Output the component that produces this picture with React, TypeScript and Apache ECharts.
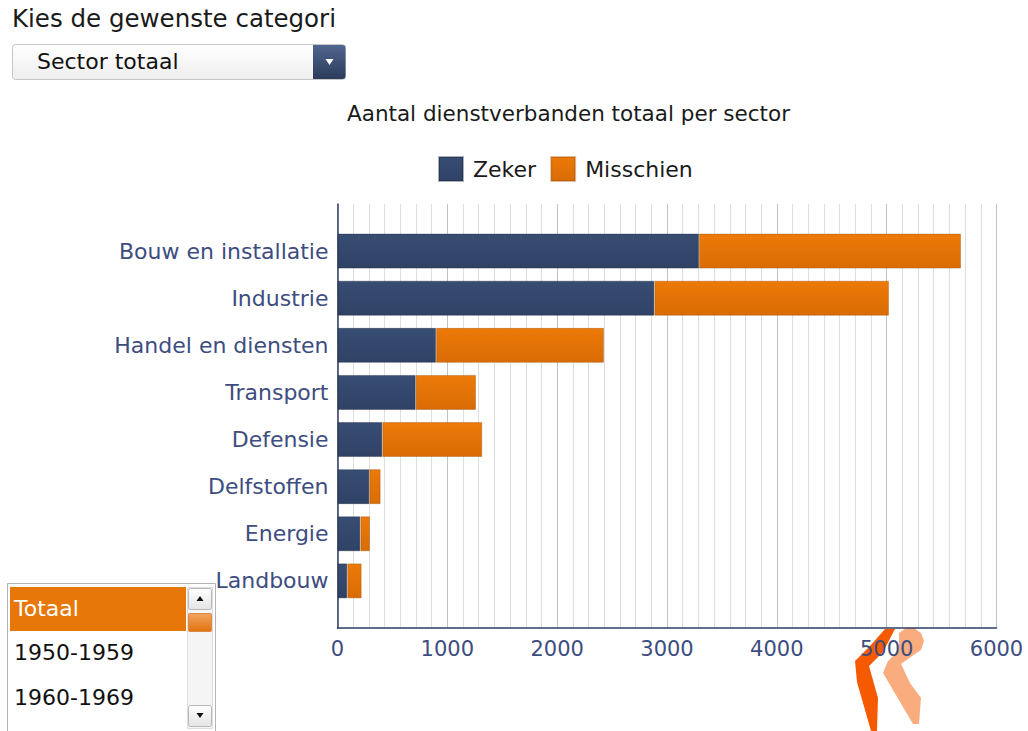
import React, { useEffect, useRef } from "react";
import * as echarts from "echarts";

const categories = [
  "Bouw en installatie",
  "Industrie",
  "Handel en diensten",
  "Transport",
  "Defensie",
  "Delfstoffen",
  "Energie",
  "Landbouw",
];
const zeker = [3291, 2885, 897, 712, 408, 290, 208, 89];
const misschien = [2386, 2136, 1529, 549, 910, 103, 88, 131];
const seriesNames = ["Zeker", "Misschien"];
const periodItems = ["Totaal", "1950-1959", "1960-1969"];
const chartTitle = "Aantal dienstverbanden totaal per sector";
const dropdownLabel = "Kies de gewenste categori";
const dropdownValue = "Sector totaal";

const FONT = "DejaVu Sans, Verdana, sans-serif";
const NAVY = "#34486b";
const ORANGE = "#e8770a";
const LABEL = "#3d4d80";

export default function App() {
  const ref = useRef<HTMLDivElement>(null);
  useEffect(() => {
    if (!ref.current) return;
    const chart = echarts.init(ref.current, undefined, { renderer: "svg" });
    const pad = (arr: any[]) => ["-", ...arr, "-"];
    const option: any = {
      animation: false,
      backgroundColor: "#ffffff",
      textStyle: { fontFamily: FONT },
      title: {
        text: chartTitle,
        left: 342,
        top: 97,
        textStyle: { fontSize: 21.5, fontWeight: "normal", color: "#1a1a1a", fontFamily: FONT },
      },
      legend: {
        left: 433,
        top: 151,
        itemWidth: 24,
        itemHeight: 24,
        itemGap: 14,
        icon: "rect",
        textStyle: { fontSize: 22, color: "#1a1a1a", fontFamily: FONT, padding: [0, 0, 0, 5] },
        data: seriesNames,
      },
      grid: { left: 337.5, right: 31.5, top: 204, bottom: 103, containLabel: false },
      xAxis: {
        type: "value",
        min: 0,
        max: 6000,
        interval: 1000,
        axisLine: { show: true, lineStyle: { color: "#2e3f63", width: 1.5 } },
        axisTick: { show: false },
        minorTick: { show: false, splitNumber: 7 },
        splitLine: { show: true, lineStyle: { color: "#c2c2c2", width: 1 } },
        minorSplitLine: { show: true, lineStyle: { color: "#dedede", width: 1 } },
        axisLabel: {
          color: LABEL,
          fontSize: 21,
          margin: 10,
          fontFamily: FONT,
          formatter: (v: number) => String(v),
        },
      },
      yAxis: {
        type: "category",
        inverse: true,
        boundaryGap: false,
        data: ["", ...categories, ""],
        axisLine: { show: true, lineStyle: { color: "#2e3f63", width: 1.5 } },
        axisTick: { show: false },
        splitLine: { show: false },
        axisLabel: { color: LABEL, fontSize: 22, margin: 9, fontFamily: FONT },
      },
      series: [
        {
          name: seriesNames[0],
          type: "bar",
          stack: "total",
          barWidth: 35,
          data: pad(zeker),
          itemStyle: {
            color: new echarts.graphic.LinearGradient(0, 0, 0, 1, [
              { offset: 0, color: "#384d73" },
              { offset: 1, color: "#2f4266" },
            ]),
            borderColor: "rgba(20,30,50,0.35)",
            borderWidth: 1,
          },
        },
        {
          name: seriesNames[1],
          type: "bar",
          stack: "total",
          barWidth: 35,
          data: pad(misschien),
          itemStyle: {
            color: new echarts.graphic.LinearGradient(0, 0, 0, 1, [
              { offset: 0, color: "#ec7a08" },
              { offset: 1, color: "#d96c05" },
            ]),
            borderColor: "rgba(150,70,0,0.35)",
            borderWidth: 1,
          },
        },
      ],
      color: [NAVY, ORANGE],
      graphic: [
        {
          type: "text",
          left: 12,
          top: 6,
          style: { text: dropdownLabel, fontSize: 24.5, fill: "#1a1a1a", fontFamily: FONT },
        },
        {
          type: "rect",
          shape: { x: 12.5, y: 44.5, width: 333, height: 35, r: 3 },
          style: {
            fill: new echarts.graphic.LinearGradient(0, 0, 0, 1, [
              { offset: 0, color: "#ffffff" },
              { offset: 1, color: "#eeeeee" },
            ]),
            stroke: "#c6c6c6",
            lineWidth: 1,
          },
        },
        {
          type: "rect",
          shape: { x: 313, y: 45, width: 32.5, height: 34, r: [0, 3, 3, 0] },
          style: {
            fill: new echarts.graphic.LinearGradient(0, 0, 0, 1, [
              { offset: 0, color: "#51668e" },
              { offset: 1, color: "#2b3c5c" },
            ]),
          },
        },
        {
          type: "polygon",
          shape: { points: [[325.5, 59], [333.5, 59], [329.5, 65]] },
          style: { fill: "#ffffff" },
        },
        {
          type: "text",
          left: 37,
          top: 50,
          style: { text: dropdownValue, fontSize: 22, fill: "#111111", fontFamily: FONT },
        },
        // list box
        {
          type: "rect",
          shape: { x: 7.5, y: 583.5, width: 208, height: 160 },
          style: { fill: "#ffffff", stroke: "#b4b4b4", lineWidth: 1 },
        },
        {
          type: "rect",
          shape: { x: 10, y: 587, width: 176, height: 44 },
          style: { fill: ORANGE },
        },
        {
          type: "text",
          left: 14,
          top: 597,
          style: { text: periodItems[0], fontSize: 22, fill: "#ffffff", fontFamily: FONT },
        },
        {
          type: "text",
          left: 14,
          top: 641,
          style: { text: periodItems[1], fontSize: 22, fill: "#111111", fontFamily: FONT },
        },
        {
          type: "text",
          left: 14,
          top: 686,
          style: { text: periodItems[2], fontSize: 22, fill: "#111111", fontFamily: FONT },
        },
        {
          type: "rect",
          shape: { x: 187.5, y: 587.5, width: 25, height: 141 },
          style: { fill: "#f5f5f5", stroke: "#dddddd", lineWidth: 1 },
        },
        {
          type: "rect",
          shape: { x: 188.5, y: 588.5, width: 23, height: 21, r: 2 },
          style: {
            fill: new echarts.graphic.LinearGradient(0, 0, 0, 1, [
              { offset: 0, color: "#ffffff" },
              { offset: 1, color: "#e4e4e4" },
            ]),
            stroke: "#b8b8b8",
          },
        },
        {
          type: "polygon",
          shape: { points: [[196.5, 601], [203.5, 601], [200, 596]] },
          style: { fill: "#111111" },
        },
        {
          type: "rect",
          shape: { x: 188.5, y: 613.5, width: 23, height: 18, r: 1 },
          style: {
            fill: new echarts.graphic.LinearGradient(0, 0, 0, 1, [
              { offset: 0, color: "#f3a460" },
              { offset: 1, color: "#e2720e" },
            ]),
            stroke: "#d98a4a",
          },
        },
        {
          type: "rect",
          shape: { x: 188.5, y: 705.5, width: 23, height: 21, r: 2 },
          style: {
            fill: new echarts.graphic.LinearGradient(0, 0, 0, 1, [
              { offset: 0, color: "#ffffff" },
              { offset: 1, color: "#e4e4e4" },
            ]),
            stroke: "#b8b8b8",
          },
        },
        {
          type: "polygon",
          shape: { points: [[196.5, 713], [203.5, 713], [200, 718]] },
          style: { fill: "#111111" },
        },
        // logo
        {
          type: "polygon",
          z: -10,
          shape: {
            points: [
              [899, 633], [906, 628], [914, 628], [921, 633], [924, 641], [921, 650],
              [912, 656], [901, 664], [910, 683], [921, 698], [919, 724], [913, 724],
              [893, 690], [883, 673], [888, 661], [899, 650],
            ],
          },
          style: { fill: "#f9a877", opacity: 0.95 },
        },
        {
          type: "polygon",
          z: -9,
          shape: {
            points: [
              [885, 629], [895, 629], [883, 652], [869, 666], [878, 698], [877, 731],
              [871, 731], [857, 682], [855, 661], [870, 646],
            ],
          },
          style: { fill: "#f55a00" },
        },
      ],
    };
    chart.setOption(option);
    return () => chart.dispose();
  }, []);
  return (
    <div
      ref={ref}
      style={{ position: "fixed", left: 0, top: 0, width: 1028, height: 731 }}
    />
  );
}
